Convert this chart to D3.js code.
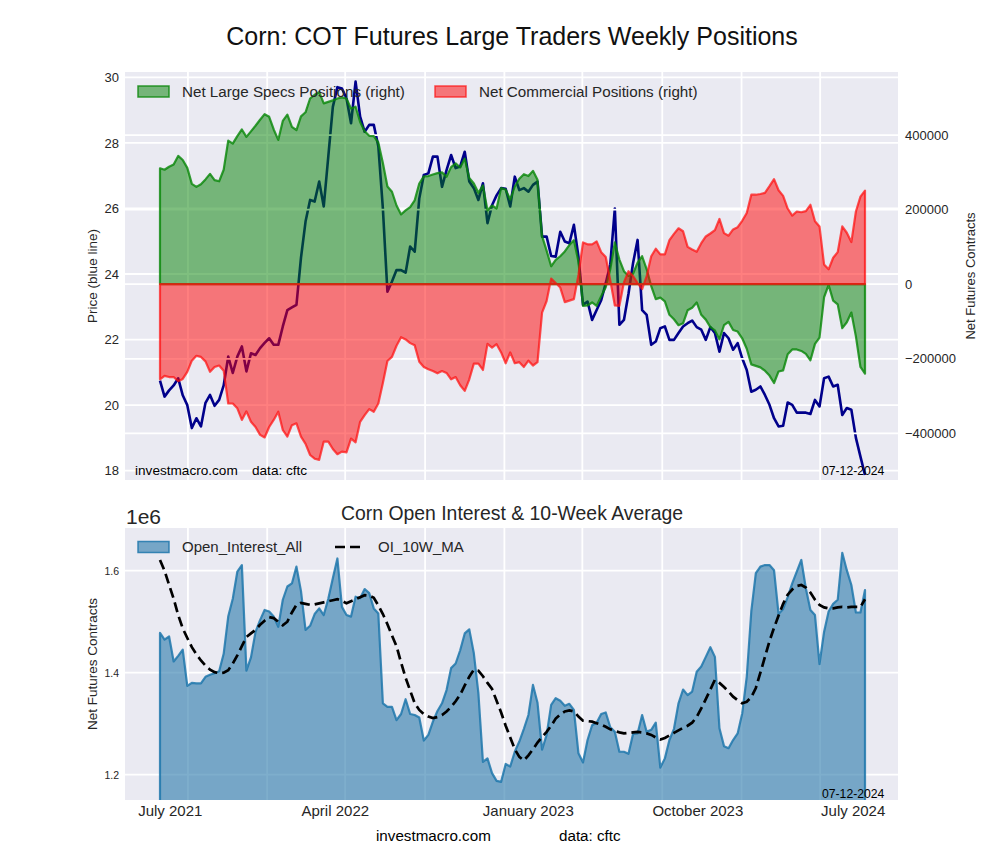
<!DOCTYPE html>
<html>
<head>
<meta charset="utf-8">
<script src="https://cdn.jsdelivr.net/npm/d3@7"></script>
<style>
  body { margin: 0; background: #fff; }
  svg { display: block; font-family: "Liberation Sans", Arial, sans-serif; }
</style>
</head>
<body>
<svg id="chart" width="1000" height="860"></svg>
<script>
// ---------------- DATA ----------------
const startDate = "2021-07-20";           // first weekly report (Tuesday)
// Corn price (blue line, left axis)
const price = [
  20.75,20.26,20.45,20.6,20.82,20.3,20.0,19.3,19.6,19.35,
  20.07,20.31,19.98,20.16,20.6,21.48,20.98,21.48,21.79,21.03,
  21.58,21.53,21.74,21.9,22.04,21.84,21.84,22.4,22.9,22.98,
  23.06,24.5,25.6,26.26,26.21,26.82,26.06,27.58,29.1,29.7,
  29.66,29.36,28.6,29.87,28.8,28.34,28.55,28.55,27.9,26.0,
  23.46,23.77,24.12,24.12,24.04,24.84,24.68,26.3,27.02,27.07,
  27.58,27.58,26.66,27.17,27.63,27.23,27.28,27.73,26.82,26.62,
  26.26,26.77,25.55,26.1,26.4,26.62,26.6,26.06,26.97,26.56,
  26.62,26.51,26.72,26.82,25.14,25.14,24.55,24.53,25.29,24.99,
  24.94,25.5,24.53,23.06,23.16,22.6,22.9,23.2,23.72,24.3,
  26.0,22.45,22.6,23.4,24.33,25.04,22.9,22.75,21.84,21.94,
  22.35,22.4,21.99,21.99,22.2,22.4,22.5,22.58,22.38,22.3,
  21.99,22.38,22.2,21.63,22.2,22.04,21.69,21.89,21.43,21.07,
  20.41,20.47,20.57,20.31,20.01,19.6,19.35,19.37,20.08,20.01,
  19.77,19.77,19.77,19.73,20.16,19.96,20.82,20.87,20.57,20.62,
  19.70,19.91,19.86,19.0,18.43,17.87
];
// Net Large Specs positions, thousands of contracts (right axis)
const netLargeSpecs = [
  311,307,315,321,344,333,312,269,261,268,
  281,296,279,276,307,385,377,397,415,395,
  410,425,441,456,449,415,387,438,455,422,
  413,450,461,498,508,515,485,489,493,498,
  501,498,471,476,435,410,398,397,380,325,
  262,248,211,187,198,207,225,270,289,290,
  294,298,300,288,314,324,313,337,285,270,
  245,265,198,211,203,258,254,227,262,283,
  295,290,304,280,129,90,48,65,75,88,
  105,118,60,-58,-57,-49,-58,-32,-8,40,
  112,66,35,22,28,58,75,40,-5,-40,
  -36,-46,-82,-94,-110,-105,-70,-63,-49,-82,
  -95,-115,-124,-148,-110,-101,-123,-127,-145,-173,
  -215,-219,-223,-232,-245,-265,-234,-231,-188,-175,
  -175,-179,-187,-204,-160,-143,-35,-2,-44,-54,
  -118,-102,-76,-140,-222,-240
];
// Net Commercial positions, thousands of contracts (right axis)
const netCommercial = [
  -255,-246,-249,-249,-260,-254,-235,-205,-192,-195,
  -207,-235,-222,-218,-232,-320,-320,-333,-364,-341,
  -369,-383,-404,-411,-383,-364,-342,-391,-409,-378,
  -373,-409,-428,-458,-468,-471,-422,-422,-442,-456,
  -449,-451,-414,-424,-369,-351,-335,-342,-320,-265,
  -206,-195,-165,-142,-148,-158,-164,-208,-222,-228,
  -233,-239,-233,-238,-255,-249,-271,-286,-255,-213,
  -213,-230,-160,-170,-161,-183,-212,-183,-212,-209,
  -222,-205,-218,-209,-76,-45,15,3,-9,-48,
  -44,-40,25,112,107,107,115,86,73,10,
  -57,-58,5,35,22,3,-13,22,75,95,
  80,80,118,135,150,142,100,93,87,110,
  128,136,145,175,137,130,147,153,170,191,
  240,240,242,245,263,282,252,237,203,184,
  195,193,196,213,169,155,53,40,71,86,
  155,138,113,195,235,251
];
// Open interest, millions of contracts
const openInterest = [
  1.478,1.465,1.471,1.422,1.433,1.445,1.374,1.380,1.379,1.379,
  1.392,1.396,1.399,1.403,1.437,1.510,1.545,1.598,1.611,1.404,
  1.430,1.480,1.503,1.523,1.520,1.510,1.490,1.543,1.569,1.575,
  1.608,1.560,1.484,1.492,1.515,1.526,1.513,1.545,1.585,1.624,
  1.529,1.513,1.510,1.549,1.546,1.564,1.556,1.526,1.516,1.340,
  1.333,1.333,1.307,1.319,1.348,1.319,1.317,1.312,1.267,1.278,
  1.304,1.325,1.340,1.366,1.409,1.418,1.444,1.477,1.485,1.438,
  1.360,1.225,1.232,1.203,1.188,1.186,1.221,1.216,1.245,1.265,
  1.290,1.317,1.376,1.341,1.249,1.278,1.337,1.350,1.345,1.335,
  1.339,1.327,1.242,1.224,1.268,1.297,1.302,1.319,1.322,1.293,
  1.284,1.245,1.245,1.241,1.280,1.281,1.317,1.284,1.288,1.302,
  1.214,1.232,1.268,1.290,1.340,1.367,1.356,1.363,1.402,1.412,
  1.431,1.450,1.431,1.291,1.256,1.252,1.268,1.281,1.320,1.392,
  1.520,1.595,1.608,1.611,1.611,1.601,1.515,1.525,1.548,1.575,
  1.598,1.621,1.565,1.523,1.513,1.417,1.480,1.520,1.535,1.543,
  1.635,1.601,1.572,1.518,1.518,1.562
];
// 10-week moving average of open interest, millions
const oi10wMA = [
  1.621,1.600,1.572,1.545,1.513,1.487,1.468,1.450,1.436,1.424,
  1.414,1.406,1.401,1.399,1.400,1.405,1.418,1.434,1.452,1.470,
  1.477,1.484,1.494,1.502,1.509,1.507,1.500,1.493,1.500,1.518,
  1.533,1.537,1.535,1.533,1.534,1.536,1.538,1.540,1.542,1.544,
  1.541,1.536,1.540,1.544,1.548,1.552,1.551,1.547,1.532,1.515,
  1.495,1.473,1.452,1.420,1.390,1.365,1.340,1.327,1.319,1.314,
  1.311,1.313,1.317,1.324,1.333,1.344,1.357,1.375,1.392,1.406,
  1.404,1.393,1.380,1.368,1.345,1.322,1.296,1.273,1.250,1.235,
  1.228,1.238,1.250,1.263,1.274,1.284,1.296,1.310,1.318,1.324,
  1.326,1.324,1.314,1.306,1.305,1.304,1.301,1.298,1.294,1.289,
  1.286,1.283,1.281,1.282,1.283,1.284,1.283,1.281,1.278,1.273,
  1.269,1.272,1.277,1.282,1.287,1.292,1.296,1.302,1.313,1.330,
  1.348,1.367,1.386,1.380,1.372,1.363,1.353,1.346,1.340,1.343,
  1.352,1.370,1.400,1.431,1.462,1.488,1.512,1.535,1.553,1.563,
  1.570,1.572,1.567,1.557,1.543,1.533,1.528,1.526,1.526,1.528,
  1.529,1.528,1.529,1.529,1.529,1.544
];
const gridDates = ["2021-09-01","2022-01-01","2022-05-01","2022-09-01","2023-01-01",
                   "2023-05-01","2023-09-01","2024-01-01","2024-05-01"];
const xTickDates = ["2021-08-04","2022-04-15","2023-02-06","2023-10-25","2024-06-20"];
const xTickLabels = ["July 2021","April 2022","January 2023","October 2023","July 2024"];
const priceTicks = [18,20,22,24,26,28,30];
const positionTicks = [-400,-200,0,200,400];   // thousands
const oiTicks = [1.2,1.4,1.6];                 // millions
const reportDate = "07-12-2024";

// ---------------- SETUP ----------------
const parse = d3.utcParse("%Y-%m-%d");
const t0 = parse(startDate);
const dates = price.map((_, i) => d3.utcDay.offset(t0, 7 * i));
const svg = d3.select("#chart");
const FONT_COLOR = "#262626";
const BG = "#eaeaf2";
const GREEN_FILL = "rgba(0,128,0,0.5)", GREEN_LINE = "rgba(10,135,10,0.82)";
const RED_FILL = "rgba(255,0,0,0.5)", RED_LINE = "rgba(255,15,15,0.72)";
const BLUE_FILL = "rgba(40,120,170,0.6)", BLUE_LINE = "rgba(31,119,172,0.85)";

const P1 = {l: 125, r: 898, t: 72, b: 480};
const P2 = {l: 125, r: 898, t: 528, b: 800};

const x = d3.scaleUtc().domain([dates[0], dates[dates.length - 1]]).range([160, 865]);
const yPrice = d3.scaleLinear().domain([17.716, 30.163]).range([P1.b, P1.t]);
const yPos = d3.scaleLinear().domain([-525.1, 569.1]).range([P1.b, P1.t]);
const yOI = d3.scaleLinear().domain([1.1504, 1.6837]).range([P2.b, P2.t]);

const defs = svg.append("defs");
defs.append("clipPath").attr("id", "clipTop").append("rect")
  .attr("x", P1.l).attr("y", P1.t).attr("width", P1.r - P1.l).attr("height", P1.b - P1.t);
defs.append("clipPath").attr("id", "clipBot").append("rect")
  .attr("x", P2.l).attr("y", P2.t).attr("width", P2.r - P2.l).attr("height", P2.b - P2.t);

// ---------------- TITLE ----------------
svg.append("text").attr("x", 512).attr("y", 45).attr("text-anchor", "middle")
  .attr("font-size", 25).attr("fill", "#111")
  .text("Corn: COT Futures Large Traders Weekly Positions");

// ---------------- TOP PANEL ----------------
svg.append("rect").attr("x", P1.l).attr("y", P1.t)
  .attr("width", P1.r - P1.l).attr("height", P1.b - P1.t).attr("fill", BG);

const gTop = svg.append("g").attr("clip-path", "url(#clipTop)");
const gridStyle = sel => sel.attr("stroke", "#fff").attr("stroke-width", 1.8);

gTop.selectAll(".vg").data(gridDates.map(parse)).join("line")
  .attr("x1", d => x(d)).attr("x2", d => x(d)).attr("y1", P1.t).attr("y2", P1.b).call(gridStyle);
gTop.selectAll(".hgp").data(priceTicks).join("line")
  .attr("x1", P1.l).attr("x2", P1.r).attr("y1", d => yPrice(d)).attr("y2", d => yPrice(d)).call(gridStyle);

// price line (under the position fills)
gTop.append("path").datum(price)
  .attr("fill", "none").attr("stroke", "#00008b").attr("stroke-width", 2.6)
  .attr("stroke-linejoin", "round")
  .attr("d", d3.line().x((d, i) => x(dates[i])).y(d => yPrice(d)));

// right-axis grid
gTop.selectAll(".hgr").data(positionTicks).join("line")
  .attr("x1", P1.l).attr("x2", P1.r).attr("y1", d => yPos(d)).attr("y2", d => yPos(d)).call(gridStyle);

const posArea = d3.area().x((d, i) => x(dates[i])).y0(yPos(0)).y1(d => yPos(d));
gTop.append("path").datum(netLargeSpecs)
  .attr("fill", GREEN_FILL).attr("stroke", GREEN_LINE)
  .attr("stroke-width", 2.2).attr("stroke-linejoin", "round").attr("d", posArea);
gTop.append("path").datum(netCommercial)
  .attr("fill", RED_FILL).attr("stroke", RED_LINE)
  .attr("stroke-width", 2.2).attr("stroke-linejoin", "round").attr("d", posArea);

// axes
const axL = svg.append("g").attr("transform", `translate(${P1.l},0)`)
  .call(d3.axisLeft(yPrice).tickValues(priceTicks).tickSize(0).tickPadding(6).tickFormat(d3.format("d")));
const axR = svg.append("g").attr("transform", `translate(${P1.r},0)`)
  .call(d3.axisRight(yPos).tickValues(positionTicks).tickSize(0).tickPadding(7)
    .tickFormat(d => d3.format("d")(d * 1000)));
[axL, axR].forEach(a => {
  a.select(".domain").remove();
  a.selectAll("text").attr("font-size", 13).attr("fill", FONT_COLOR)
    .attr("font-family", '"Liberation Sans", Arial, sans-serif');
});

svg.append("text").attr("transform", `translate(92,${(P1.t + P1.b) / 2}) rotate(-90)`)
  .attr("text-anchor", "middle").attr("dominant-baseline", "central")
  .attr("font-size", 13.5).attr("fill", FONT_COLOR).text("Price (blue line)");
svg.append("text").attr("transform", `translate(970,${(P1.t + P1.b) / 2}) rotate(-90)`)
  .attr("text-anchor", "middle").attr("dominant-baseline", "central")
  .attr("font-size", 13).attr("fill", FONT_COLOR).text("Net Futures Contracts");

// legend top
const legTop = svg.append("g");
legTop.append("rect").attr("x", 138).attr("y", 86).attr("width", 31).attr("height", 11)
  .attr("fill", GREEN_FILL).attr("stroke", GREEN_LINE).attr("stroke-width", 1.5);
legTop.append("text").attr("x", 182).attr("y", 96.5).attr("font-size", 15.2).attr("fill", FONT_COLOR)
  .text("Net Large Specs Positions (right)");
legTop.append("rect").attr("x", 435).attr("y", 86).attr("width", 31).attr("height", 11)
  .attr("fill", RED_FILL).attr("stroke", RED_LINE).attr("stroke-width", 1.5);
legTop.append("text").attr("x", 479).attr("y", 96.5).attr("font-size", 15.2).attr("fill", FONT_COLOR)
  .text("Net Commercial Positions (right)");

svg.append("text").attr("x", 135).attr("y", 475).attr("font-size", 13.6).attr("fill", "#000").text("investmacro.com");
svg.append("text").attr("x", 252).attr("y", 475).attr("font-size", 13.6).attr("fill", "#000").text("data: cftc");
svg.append("text").attr("x", 822).attr("y", 475).attr("font-size", 12.2).attr("fill", "#000").text(reportDate);

// ---------------- BOTTOM PANEL ----------------
svg.append("text").attr("x", 512).attr("y", 520).attr("text-anchor", "middle")
  .attr("font-size", 19.4).attr("fill", FONT_COLOR).text("Corn Open Interest & 10-Week Average");
svg.append("text").attr("x", 126).attr("y", 524).attr("font-size", 21).attr("fill", FONT_COLOR).text("1e6");

svg.append("rect").attr("x", P2.l).attr("y", P2.t)
  .attr("width", P2.r - P2.l).attr("height", P2.b - P2.t).attr("fill", BG);
const gBot = svg.append("g").attr("clip-path", "url(#clipBot)");
gBot.selectAll(".vg").data(gridDates.map(parse)).join("line")
  .attr("x1", d => x(d)).attr("x2", d => x(d)).attr("y1", P2.t).attr("y2", P2.b).call(gridStyle);
gBot.selectAll(".hg").data(oiTicks).join("line")
  .attr("x1", P2.l).attr("x2", P2.r).attr("y1", d => yOI(d)).attr("y2", d => yOI(d)).call(gridStyle);

gBot.append("path").datum(openInterest)
  .attr("fill", BLUE_FILL).attr("stroke", BLUE_LINE)
  .attr("stroke-width", 2.2).attr("stroke-linejoin", "round")
  .attr("d", d3.area().x((d, i) => x(dates[i])).y0(yOI(0)).y1(d => yOI(d)));
gBot.append("path").datum(oi10wMA)
  .attr("fill", "none").attr("stroke", "#000").attr("stroke-width", 2.7)
  .attr("stroke-dasharray", "10,5")
  .attr("d", d3.line().x((d, i) => x(dates[i])).y(d => yOI(d)));

const axBL = svg.append("g").attr("transform", `translate(${P2.l},0)`)
  .call(d3.axisLeft(yOI).tickValues(oiTicks).tickSize(0).tickPadding(6).tickFormat(d3.format(".1f")));
axBL.select(".domain").remove();
axBL.selectAll("text").attr("font-size", 10.5).attr("fill", FONT_COLOR)
  .attr("font-family", '"Liberation Sans", Arial, sans-serif');

const axBX = svg.append("g").attr("transform", `translate(0,${P2.b})`)
  .call(d3.axisBottom(x).tickValues(xTickDates.map(parse)).tickSize(0).tickPadding(5)
    .tickFormat((d, i) => xTickLabels[i]));
axBX.select(".domain").remove();
axBX.selectAll("text").attr("font-size", 15).attr("fill", FONT_COLOR)
  .attr("font-family", '"Liberation Sans", Arial, sans-serif');

svg.append("text").attr("transform", `translate(92,${(P2.t + P2.b) / 2}) rotate(-90)`)
  .attr("text-anchor", "middle").attr("dominant-baseline", "central")
  .attr("font-size", 13.5).attr("fill", FONT_COLOR).text("Net Futures Contracts");

// legend bottom
const legBot = svg.append("g");
legBot.append("rect").attr("x", 138).attr("y", 541.5).attr("width", 31).attr("height", 11)
  .attr("fill", BLUE_FILL).attr("stroke", BLUE_LINE).attr("stroke-width", 1.5);
legBot.append("text").attr("x", 182).attr("y", 552).attr("font-size", 15).attr("fill", FONT_COLOR)
  .text("Open_Interest_All");
legBot.append("line").attr("x1", 335).attr("x2", 364).attr("y1", 547).attr("y2", 547)
  .attr("stroke", "#000").attr("stroke-width", 2.7).attr("stroke-dasharray", "10,5");
legBot.append("text").attr("x", 378).attr("y", 552).attr("font-size", 15).attr("fill", FONT_COLOR)
  .text("OI_10W_MA");

svg.append("text").attr("x", 822).attr("y", 798).attr("font-size", 12.2).attr("fill", "#000").text(reportDate);

// footer
svg.append("text").attr("x", 376).attr("y", 841).attr("font-size", 15.2).attr("fill", "#000").text("investmacro.com");
svg.append("text").attr("x", 559).attr("y", 841).attr("font-size", 15.2).attr("fill", "#000").text("data: cftc");
</script>
</body>
</html>
